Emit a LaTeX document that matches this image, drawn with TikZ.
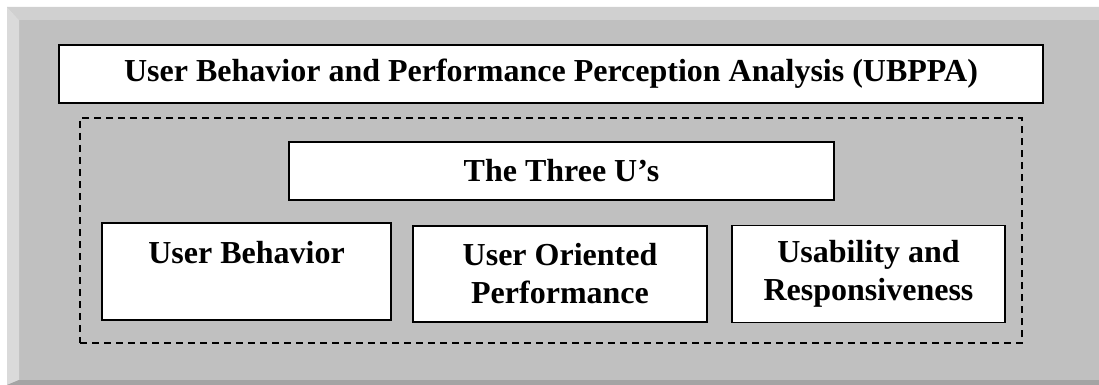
\documentclass[tikz,border=0pt]{standalone}
\usepackage{fontspec}
\setmainfont{Liberation Serif}
\definecolor{bevtop}{HTML}{D0D0D0}
\definecolor{bevleft}{HTML}{DADADA}
\definecolor{bevbot}{HTML}{A4A4A4}
\definecolor{panel}{HTML}{C0C0C0}
\begin{document}
\begin{tikzpicture}[x=1pt,y=-1pt,
  box/.style={draw=black, line width=1.6pt, fill=white, align=center, inner sep=0pt,
    font=\fontsize{32}{38}\selectfont\bfseries},
  dashbox/.style={draw=black, line width=1.3pt, dash pattern=on 7pt off 5pt, inner sep=0pt}]
\useasboundingbox (0,0) rectangle (1099,385);
\fill[white] (0,0) rectangle (1099,385);
% bevelled panel
\fill[panel] (7,7) rectangle (1099,385);
\fill[bevtop] (7,7) -- (1099,7) -- (1099,20) -- (19,20) -- cycle;
\fill[bevleft] (7,7) -- (19,20) -- (19,380) -- (7,385) -- cycle;
\fill[bevbot] (7,385) -- (19,380) -- (1099,380) -- (1099,385) -- cycle;
% boxes
\node[box, minimum width=984pt, minimum height=58pt] (title) at (551,74)
  {User Behavior and Performance Perception Analysis (UBPPA)};
\node[dashbox, minimum width=942pt, minimum height=225pt] (group) at (551,230.5) {};
\node[box, minimum width=545pt, minimum height=58pt] (three) at (561.5,171) {The Three U’s};
\node[box, minimum width=289pt, minimum height=97pt] (ub) at (246.5,271.5) {User Behavior\\\mbox{}};
\node[box, minimum width=294pt, minimum height=96pt] (uop) at (560,274) {User Oriented\\Performance};
\node[box, minimum width=273pt, minimum height=97pt] (ur) at (868.5,274) {Usability and\\Responsiveness};
\end{tikzpicture}
\end{document}
